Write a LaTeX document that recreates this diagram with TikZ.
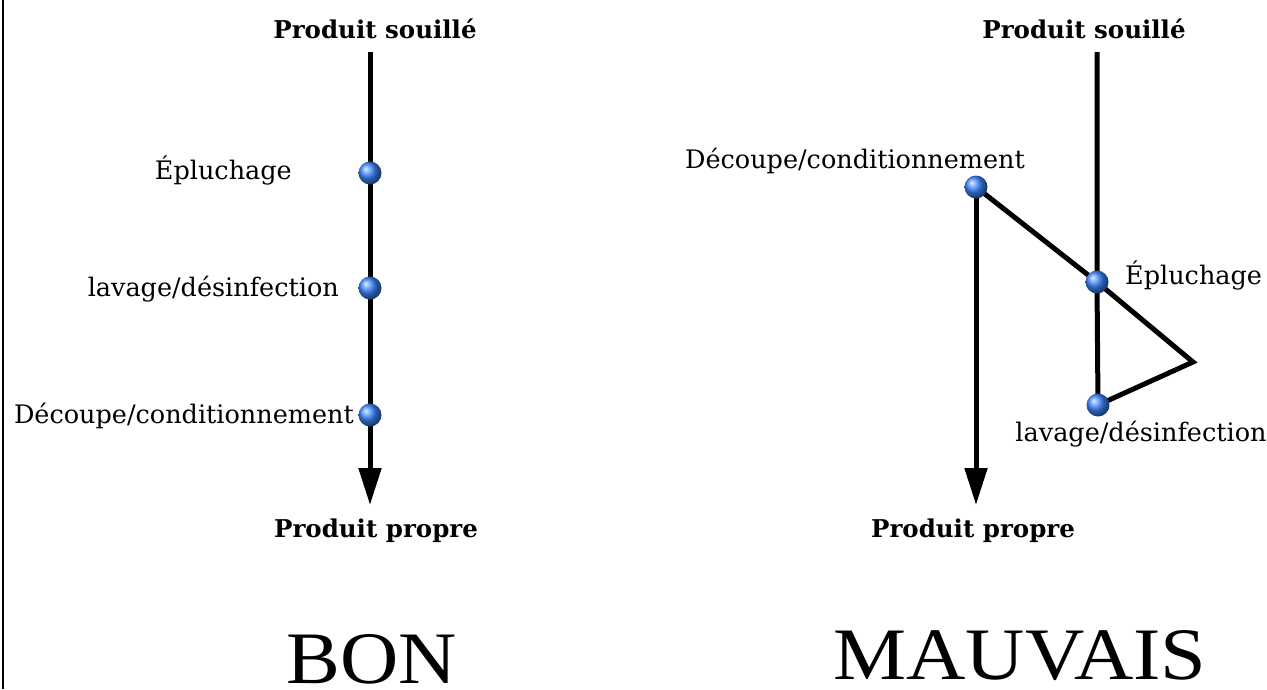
\documentclass[tikz,border=0pt]{standalone}
\usepackage{fontspec}
\setmainfont{DejaVu Serif}
\newfontfamily\bigfont{Liberation Serif}
\usetikzlibrary{arrows.meta}
\pgfdeclarelayer{bg}
\pgfsetlayers{bg,main}
\tikzset{
  flow/.style={line width=5pt},
  stepball/.style={circle, minimum size=23pt, inner sep=0pt, shading=ball, ball color={rgb,255:red,60;green,135;blue,255}},
  lbl/.style={font=\fontsize{25.5}{30}\selectfont, inner sep=0pt},
  endlbl/.style={font=\fontsize{24.5}{29}\selectfont\bfseries, inner sep=0pt},
  verdict/.style={font=\bigfont\fontsize{74}{80}\selectfont, inner sep=0pt}
}
\begin{document}
\begin{tikzpicture}[x=1pt,y=-1pt]
		%%%%% START %%%%%
		\useasboundingbox (0,0) rectangle (1267,689);
		\draw[line width=1.5pt] (3,0) -- (3,689);
		
		% BON
		\node[endlbl] (src1) at (375,29) {Produit souillé};
		\node[endlbl] (dst1) at (376,531) {Produit propre};
		\coordinate (t1) at (370,52);
		\coordinate (e1) at (370,505);
		\node[stepball] (b1) at (370,173) {};
		\node[stepball] (b2) at (370,288) {};
		\node[stepball] (b3) at (370,415) {};
		\node[lbl, anchor=east] at (292,171) {Épluchage};
		\node[lbl, anchor=east] at (339,289) {lavage/désinfection};
		\node[lbl, anchor=east] at (354,416) {Découpe/conditionnement};
		\begin{pgfonlayer}{bg}
		\draw[flow, -{Triangle[length=37pt,width=22pt]}] (t1) -- (e1);
		\end{pgfonlayer}
		\node[verdict] (ok) at (372,659) {\scalebox{1.09}[1]{BON}};
		
		% MAUVAIS
		\node[endlbl] (src2) at (1084,29) {Produit souillé};
		\node[endlbl] (dst2) at (973,531) {Produit propre};
		\coordinate (t2) at (1097,52);
		\coordinate (e2) at (976,505);
		\coordinate (k) at (1193,362);
		\node[stepball] (r1) at (976,187) {};
		\node[stepball] (r2) at (1097,282) {};
		\node[stepball] (r3) at (1098,405) {};
		\node[lbl] at (855,161) {Découpe/conditionnement};
		\node[lbl, anchor=west] at (1125,276) {Épluchage};
		\node[lbl] at (1141,434) {lavage/désinfection};
		\begin{pgfonlayer}{bg}
		\draw[flow] (t2) -- (r2.center) -- (r3.center);
		\draw[flow, line join=miter] (r1.center) -- (r2.center) -- (k) -- (r3.center);
		\draw[flow, -{Triangle[length=37pt,width=22pt]}] (r1.center) -- (e2);
		\end{pgfonlayer}
		\node[verdict] (bad) at (1020,656) {\scalebox{1.11}[1]{MAUVAIS}};
		%%%%% END %%%%%
\end{tikzpicture}
\end{document}
